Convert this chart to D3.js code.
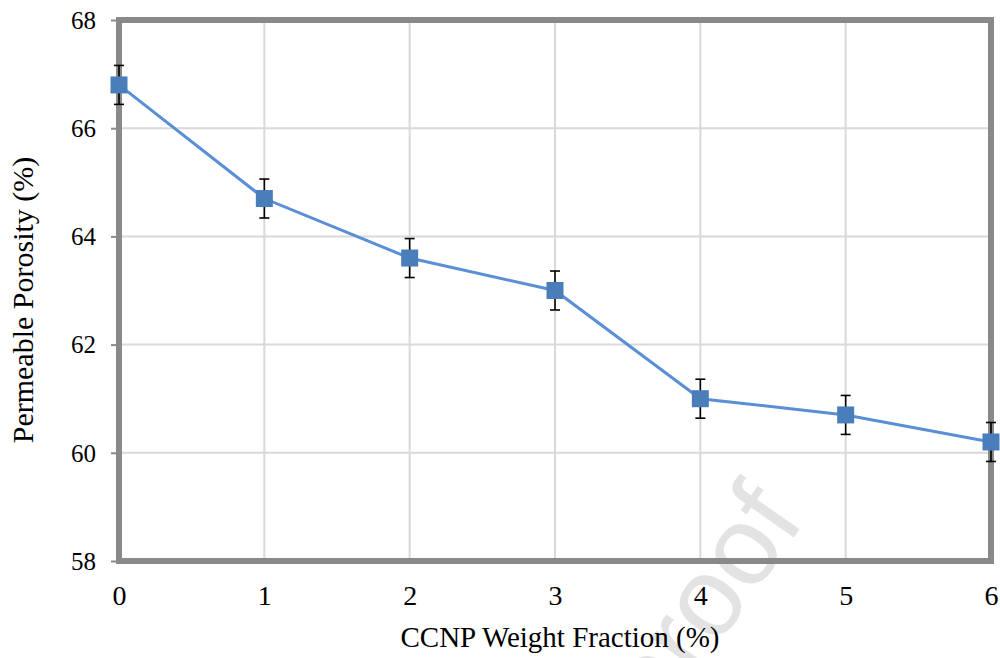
<!DOCTYPE html>
<html>
<head>
<meta charset="utf-8">
<script src="https://cdn.jsdelivr.net/npm/d3@7"></script>
<style>
  html, body { margin: 0; padding: 0; background: #fff; }
  svg { display: block; }
  text { font-family: "Liberation Serif", "Times New Roman", serif; fill: #000; }
</style>
</head>
<body>
<svg id="chart" width="1000" height="658"></svg>
<script>
// CCNP weight fraction (%) vs. permeable porosity (%)
const fractions = [0, 1, 2, 3, 4, 5, 6];
const porosity  = [66.8, 64.7, 63.6, 63.0, 61.0, 60.7, 60.2];
const errors    = [0.36, 0.36, 0.36, 0.36, 0.36, 0.36, 0.36];
const xTicks = [0, 1, 2, 3, 4, 5, 6];
const yTicks = [58, 60, 62, 64, 66, 68];

const svg = d3.select("#chart");
const plotLeft = 119, plotRight = 991, plotTop = 20, plotBottom = 561;

const x = d3.scaleLinear().domain([0, 6]).range([plotLeft, plotRight]);
const y = d3.scaleLinear().domain([58, 68]).range([plotBottom, plotTop]);

// Faint diagonal watermark
svg.append("text")
  .attr("transform", "translate(806,520) rotate(-55)")
  .attr("text-anchor", "end")
  .style("font-family", "'Liberation Sans', Arial, sans-serif")
  .style("font-size", "112px")
  .style("fill", "#e3e3e3")
  .text("Journal Pre-proof");

// Gridlines
svg.append("g").selectAll("line").data(yTicks).join("line")
  .attr("x1", plotLeft).attr("x2", plotRight)
  .attr("y1", d => y(d)).attr("y2", d => y(d))
  .attr("stroke", "#d9d9d9").attr("stroke-width", 2);
svg.append("g").selectAll("line").data(xTicks).join("line")
  .attr("y1", plotTop).attr("y2", plotBottom)
  .attr("x1", d => x(d)).attr("x2", d => x(d))
  .attr("stroke", "#d9d9d9").attr("stroke-width", 2);

// Y axis ticks and labels
const yAxis = svg.append("g").attr("transform", `translate(${plotLeft},0)`)
  .call(d3.axisLeft(y).tickValues(yTicks).tickSize(8).tickPadding(15).tickFormat(d3.format("d")));
yAxis.select(".domain").remove();
yAxis.selectAll(".tick line").attr("stroke", "#898989").attr("stroke-width", 2);
yAxis.selectAll(".tick text").style("font-size", "25px").attr("dy", "0.33em")
  .style("font-family", "'Liberation Serif', serif");

// X axis labels
const xAxis = svg.append("g").attr("transform", `translate(0,${plotBottom})`)
  .call(d3.axisBottom(x).tickValues(xTicks).tickSize(0).tickPadding(24).tickFormat(d3.format("d")));
xAxis.select(".domain").remove();
xAxis.selectAll(".tick text").style("font-size", "28px")
  .style("font-family", "'Liberation Serif', serif");

// Plot frame
svg.append("rect")
  .attr("x", plotLeft).attr("y", plotTop)
  .attr("width", plotRight - plotLeft).attr("height", plotBottom - plotTop)
  .attr("fill", "none").attr("stroke", "#898989").attr("stroke-width", 6);

// Series line
svg.append("path")
  .datum(fractions.map((f, i) => [f, porosity[i]]))
  .attr("fill", "none").attr("stroke", "#5a8ed6").attr("stroke-width", 3)
  .attr("d", d3.line().x(d => x(d[0])).y(d => y(d[1])));

// Error bars
const eb = svg.append("g").attr("stroke", "#000").attr("stroke-width", 1.6);
fractions.forEach((f, i) => {
  const cx = x(f), y1 = y(porosity[i] + errors[i]), y2 = y(porosity[i] - errors[i]);
  eb.append("line").attr("x1", cx).attr("x2", cx).attr("y1", y1).attr("y2", y2);
  eb.append("line").attr("x1", cx - 5).attr("x2", cx + 5).attr("y1", y1).attr("y2", y1);
  eb.append("line").attr("x1", cx - 5).attr("x2", cx + 5).attr("y1", y2).attr("y2", y2);
});

// Square markers
const ms = 17;
svg.append("g").selectAll("rect").data(fractions).join("rect")
  .attr("x", d => x(d) - ms / 2)
  .attr("y", (d, i) => y(porosity[i]) - ms / 2)
  .attr("width", ms).attr("height", ms)
  .attr("fill", "#4a7ebb");

// Axis titles
svg.append("text")
  .attr("x", 560).attr("y", 647)
  .attr("text-anchor", "middle")
  .style("font-size", "29px")
  .text("CCNP Weight Fraction (%)");

svg.append("text")
  .attr("transform", "translate(33,300) rotate(-90)")
  .attr("text-anchor", "middle")
  .style("font-size", "30px")
  .text("Permeable Porosity (%)");
</script>
</body>
</html>
